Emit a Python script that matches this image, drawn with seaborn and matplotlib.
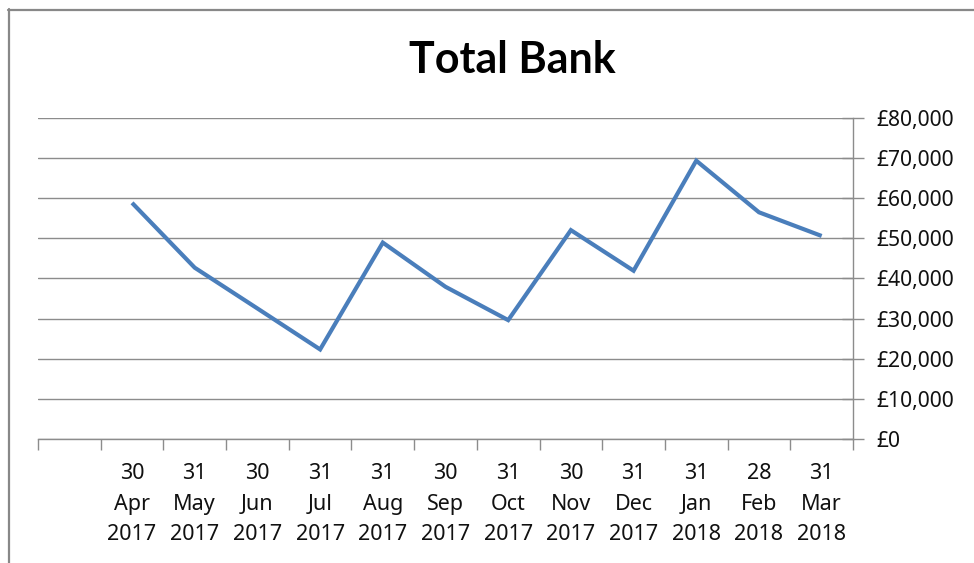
import matplotlib
matplotlib.use("Agg")
import matplotlib.pyplot as plt
import seaborn as sns
import numpy as np
import pandas as pd
from matplotlib.ticker import FuncFormatter, FixedLocator
from matplotlib.lines import Line2D

# Data
categories = ["30\nApr\n2017", "31\nMay\n2017", "30\nJun\n2017", "31\nJul\n2017",
              "31\nAug\n2017", "30\nSep\n2017", "31\nOct\n2017", "30\nNov\n2017",
              "31\nDec\n2017", "31\nJan\n2018", "28\nFeb\n2018", "31\nMar\n2018"]
values = [58800, 42650, 32500, 22300, 48900, 37900, 29600, 52000, 41900, 69300, 56450, 50550]
y_ticks = [0, 10000, 20000, 30000, 40000, 50000, 60000, 70000, 80000]
title = "Total Bank"

sns.set_theme(style="white")
plt.rcParams['font.family'] = ['Noto Sans', 'DejaVu Sans']

W, H = 974, 563
fig = plt.figure(figsize=(W / 100, H / 100), dpi=100)
left, right, top, bottom = 38, 853, 117.7, 439
ax = fig.add_axes([left / W, 1 - bottom / H, (right - left) / W, (bottom - top) / H])

# one leading empty slot, then the 12 categories
pos = np.arange(1, len(categories) + 1)
df = pd.DataFrame({"x": pos, "value": values})
sns.lineplot(data=df, x="x", y="value", ax=ax, color="#4A7EBB", linewidth=3.0,
             solid_joinstyle="miter", solid_capstyle="butt")

ax.set_xlim(-0.5, len(categories) + 0.5)
ax.set_ylim(0, 80000)
ax.set_xlabel("")
ax.set_ylabel("")

grid_color = "#8C8C8C"
for s in ["left", "top"]:
    ax.spines[s].set_visible(False)
for s in ["right", "bottom"]:
    ax.spines[s].set_color(grid_color)
    ax.spines[s].set_linewidth(1.0)

ax.yaxis.tick_right()
ax.set_yticks(y_ticks)
ax.yaxis.set_major_formatter(FuncFormatter(lambda v, p: "£{:,.0f}".format(v)))
ax.tick_params(axis="y", which="major", direction="inout", length=16, width=1.0,
               color=grid_color, labelsize=15.2, labelcolor="#111111", pad=9, right=True, left=False)
ax.yaxis.grid(True, color=grid_color, linewidth=1.0)
ax.xaxis.grid(False)

ax.set_xticks(pos)
ax.set_xticklabels(categories, linespacing=1.62)
ax.xaxis.set_minor_locator(FixedLocator(np.arange(-0.5, len(categories) + 1, 1.0)))
ax.tick_params(axis="x", which="major", length=0, labelsize=15.5, labelcolor="#111111", pad=17)
ax.tick_params(axis="x", which="minor", direction="out", length=8, width=1.0,
               color=grid_color, bottom=True)

fig.text(512 / W, 1 - 60 / H, title, ha="center", va="center",
         fontsize=31, fontweight="bold", color="black", family=["Lato", "DejaVu Sans"])

# outer chart border (left and top visible)
fig.add_artist(Line2D([9 / W, 9 / W], [0, 1 - 9 / H], transform=fig.transFigure,
                      color="#888888", linewidth=1.6))
fig.add_artist(Line2D([8 / W, 1], [1 - 10 / H, 1 - 10 / H], transform=fig.transFigure,
                      color="#888888", linewidth=1.6))

fig.savefig("out.png", dpi=100, facecolor="white")
